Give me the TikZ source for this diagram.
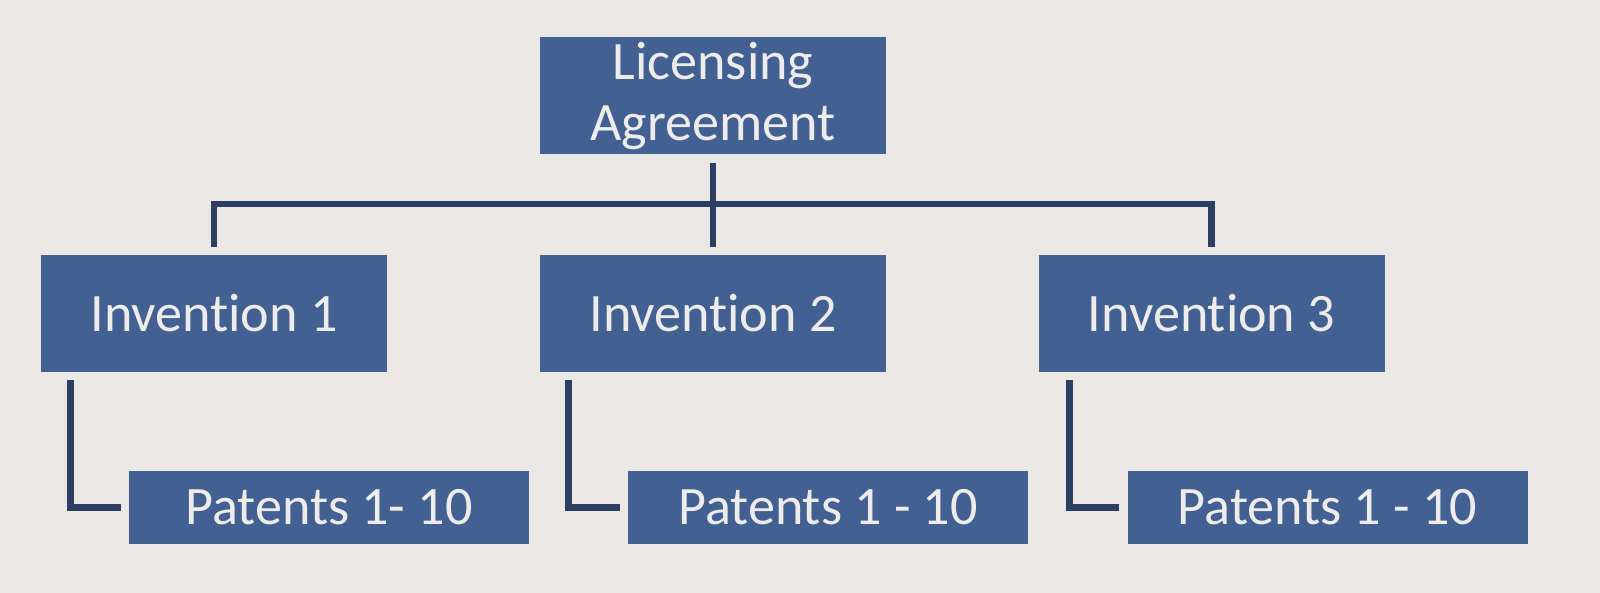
\documentclass[tikz,border=0pt]{standalone}
\usepackage{fontspec}
\setmainfont{Carlito}[Ligatures=NoCommon]
\usepackage{tikz}

\definecolor{paper}{RGB}{234,231,228}
\definecolor{boxblue}{RGB}{67,96,146}
\definecolor{boxtext}{RGB}{237,236,235}
\definecolor{linkblue}{RGB}{44,62,98}

\tikzset{
  orgbox/.style={fill=boxblue, text=boxtext, inner sep=0pt, align=center,
    font=\fontsize{15.4}{17.3}\selectfont},
  topbox/.style={orgbox, minimum width=3.46cm, minimum height=1.17cm},
  patbox/.style={orgbox, minimum width=4.00cm, minimum height=0.73cm},
  link/.style={draw=linkblue, line width=1.9pt, shorten <=0.075cm, shorten >=0.075cm}
}

\begin{document}
\begin{tikzpicture}
    \fill[paper] (0,0) rectangle (16,-5.93);
    \useasboundingbox (0,0) rectangle (16,-5.93);

    \node[topbox] (lic) at (7.13,-0.96) {Licensing\\Agreement};
    \node[topbox] (inv1) at (2.14,-3.135) {Invention 1};
    \node[topbox] (inv2) at (7.13,-3.135) {Invention 2};
    \node[topbox] (inv3) at (12.115,-3.135) {Invention 3};
    \node[patbox] (pat1) at (3.29,-5.075) {Patents 1- 10};
    \node[patbox] (pat2) at (8.28,-5.075) {Patents 1 - 10};
    \node[patbox] (pat3) at (13.275,-5.075) {Patents 1 - 10};
    \coordinate (bar) at (7.13,-2.04);

    \draw[link] (lic) -- (inv2);
    \draw[link] (inv1.north) |- (bar) -| (inv3.north);
    \draw[link] ([xshift=0.30cm]inv1.south west) |- (pat1);
    \draw[link] ([xshift=0.29cm]inv2.south west) |- (pat2);
    \draw[link] ([xshift=0.32cm]inv3.south west) |- (pat3);
  \end{tikzpicture}
\end{document}
